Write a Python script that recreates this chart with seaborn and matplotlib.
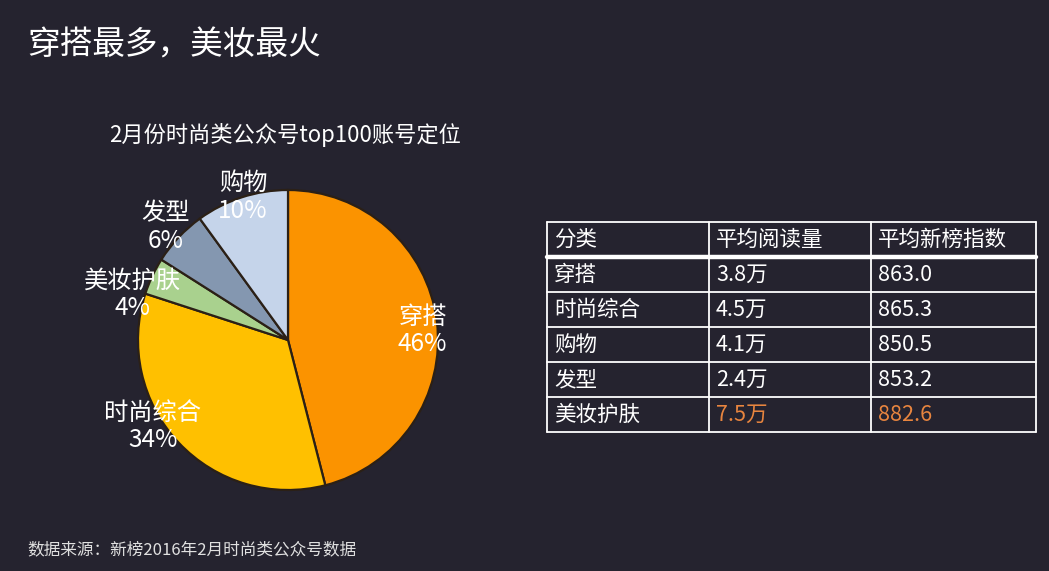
import matplotlib
matplotlib.use('Agg')
import matplotlib.pyplot as plt
import numpy as np
import seaborn as sns

sns.set_style('dark')
plt.rcParams['font.family'] = ['Noto Sans CJK SC', 'DejaVu Sans']

# pie data
categories = ['穿搭', '时尚综合', '美妆护肤', '发型', '购物']
shares = [46, 34, 4, 6, 10]

# table data
table_header = ['分类', '平均阅读量', '平均新榜指数']
table_cats = ['穿搭', '时尚综合', '购物', '发型', '美妆护肤']
avg_reads = ['3.8万', '4.5万', '4.1万', '2.4万', '7.5万']
avg_index = ['863.0', '865.3', '850.5', '853.2', '882.6']
highlight = '美妆护肤'

bg = '#25232f'
pie_colors = ['#fb9300', '#ffc000', '#a9d18e', '#8497b0', '#c5d4ea']
# label placement: radius (in pie radii) and angular nudge (deg)
label_r = [0.9, 1.07, 1.08, 1.11, 1.0]
label_turn = [-3.2, -10.6, 8.7, 0.6, -0.6]

W, H = 1049, 571
fig = plt.figure(figsize=(W / 100, H / 100), dpi=100, facecolor=bg)

# pie, centre at (288, 340) px, radius 150 px
cx, cy, r, half = 288, 340, 150, 190
ax = fig.add_axes([(cx - half) / W, (H - cy - half) / H, 2 * half / W, 2 * half / H])
ax.set_facecolor(bg)
wedges, _ = ax.pie(shares, colors=pie_colors, startangle=90, counterclock=False,
                   wedgeprops=dict(edgecolor='#2b2016', linewidth=1.6))
lim = half / r
ax.set_xlim(-lim, lim)
ax.set_ylim(-lim, lim)
ax.set_aspect('equal')
ax.axis('off')
for w, name, v, lr, dt in zip(wedges, categories, shares, label_r, label_turn):
    ang = np.deg2rad((w.theta1 + w.theta2) / 2 + dt)
    ax.text(lr * np.cos(ang), lr * np.sin(ang), f'{name}\n{v}%', color='white',
            fontsize=17.5, ha='center', va='center', linespacing=1.08)

# table
tx0, tx1, ty0, ty1 = 547, 1036, 222, 432
tax = fig.add_axes([tx0 / W, (H - ty1) / H, (tx1 - tx0) / W, (ty1 - ty0) / H])
tax.set_facecolor(bg)
tw = tx1 - tx0
nrows = len(table_cats) + 1
tax.set_xlim(0, tw)
tax.set_ylim(nrows, 0)
tax.axis('off')
col_x = [0, 162, 324, tw]
for x in col_x:
    tax.plot([x, x], [0, nrows], color='white', lw=1.3, clip_on=False)
for i in range(nrows + 1):
    tax.plot([0, tw], [i, i], color='white', lw=3.2 if i == 1 else 1.3,
             clip_on=False)
rows = [table_header] + [list(t) for t in zip(table_cats, avg_reads, avg_index)]
for i, row in enumerate(rows):
    for j, cell in enumerate(row):
        c = 'white'
        if i > 0 and row[0] == highlight and j > 0:
            c = '#e8853f'
        tax.text(col_x[j] + 7, i + 0.52, cell, color=c, fontsize=15.5,
                 ha='left', va='center')

# titles and source
fig.text(27 / W, 1 - 45 / H, '穿搭最多，美妆最火', color='white', fontsize=23.5,
         ha='left', va='center')
fig.text(285 / W, 1 - 135 / H, '2月份时尚类公众号top100账号定位', color='white',
         fontsize=16, ha='center', va='center')
fig.text(27 / W, 1 - 550 / H, '数据来源：新榜2016年2月时尚类公众号数据', color='#e0e0e0',
         fontsize=12, ha='left', va='center')

fig.savefig('out.png', dpi=100, facecolor=bg)
